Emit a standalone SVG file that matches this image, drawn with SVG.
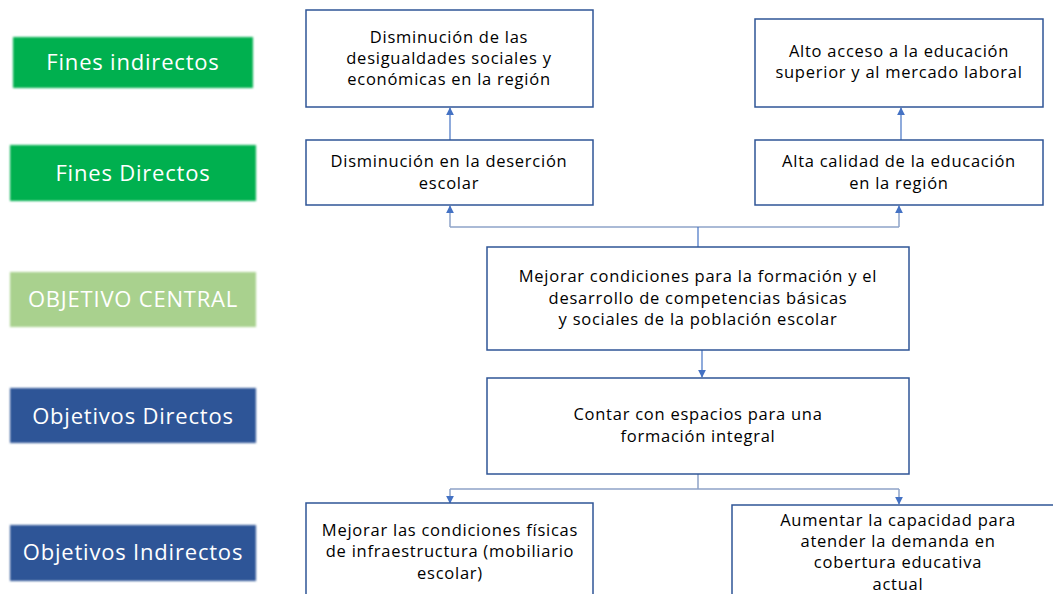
<svg xmlns="http://www.w3.org/2000/svg" width="1053" height="594" viewBox="0 0 1053 594">
<defs>
<style>
.lbl text{font-family:"Open Sans",Lato,sans-serif;font-size:22px;letter-spacing:0.8px;fill:#fff;text-anchor:middle}
.box rect{fill:#fff;stroke:#2F5597;stroke-width:1.5}
.box text{font-family:"Open Sans",Lato,sans-serif;font-size:16.5px;letter-spacing:0.75px;fill:#000;text-anchor:middle}
.con{fill:none;stroke:#8EA3C8;stroke-width:1.5}
.conv{fill:none;stroke:#4472C4;stroke-width:1.2}
</style>
<filter id="soft" x="-5%" y="-10%" width="110%" height="120%"><feGaussianBlur stdDeviation="1"/></filter>
<marker id="ah" viewBox="0 0 10 10" refX="9" refY="5" markerWidth="8" markerHeight="8" markerUnits="userSpaceOnUse" orient="auto"><path d="M0,0 L10,5 L0,10 z" fill="#4472C4"/></marker>
</defs>
<rect width="1053" height="594" fill="#fff"/>
<g id="lbl-fines-indirectos" class="lbl"><rect x="13" y="37" width="240" height="51" fill="#00B050" filter="url(#soft)"/><text x="133" y="70">Fines indirectos</text></g>
<g id="lbl-fines-directos" class="lbl"><rect x="10" y="145" width="246" height="56" fill="#00B050" filter="url(#soft)"/><text x="133" y="181">Fines Directos</text></g>
<g id="lbl-objetivo-central" class="lbl"><rect x="10" y="272" width="246" height="55" fill="#A9D18E" filter="url(#soft)"/><text x="133" y="307">OBJETIVO CENTRAL</text></g>
<g id="lbl-objetivos-directos" class="lbl"><rect x="10" y="388" width="246" height="55" fill="#2F5597" filter="url(#soft)"/><text x="133" y="424">Objetivos Directos</text></g>
<g id="lbl-objetivos-indirectos" class="lbl"><rect x="10" y="525" width="246" height="56" fill="#2F5597" filter="url(#soft)"/><text x="133" y="560">Objetivos Indirectos</text></g>

<g id="connectors">
<path class="conv" d="M450,140 V108" marker-end="url(#ah)"/>
<path class="conv" d="M901,140 V108" marker-end="url(#ah)"/>
<path class="con" d="M450,227 H899"/>
<path class="conv" d="M698,247 V227"/>
<path class="con" d="M450,227 V206" marker-end="url(#ah)"/>
<path class="con" d="M899,227 V206" marker-end="url(#ah)"/>
<path class="conv" d="M702,350 V377" marker-end="url(#ah)"/>
<path class="con" d="M698,474 V489 M450,489 H899"/>
<path class="con" d="M450,489 V503" marker-end="url(#ah)"/>
<path class="con" d="M899,489 V504" marker-end="url(#ah)"/>
</g>

<g id="n-desigualdades" class="box"><rect x="306" y="10" width="287" height="97"/><text x="449" y="43">Disminución de las</text><text x="449" y="64">desigualdades sociales y</text><text x="449" y="85">económicas en la región</text></g>
<g id="n-acceso" class="box"><rect x="755" y="19" width="288" height="88"/><text x="899" y="57">Alto acceso a la educación</text><text x="899" y="78">superior y al mercado laboral</text></g>
<g id="n-desercion" class="box"><rect x="306" y="140" width="287" height="65"/><text x="449" y="167">Disminución en la deserción</text><text x="449" y="189">escolar</text></g>
<g id="n-calidad" class="box"><rect x="755" y="140" width="288" height="65"/><text x="899" y="167">Alta calidad de la educación</text><text x="899" y="189">en la región</text></g>
<g id="n-central" class="box"><rect x="487" y="247" width="422" height="103"/><text x="698" y="282">Mejorar condiciones para la formación y el</text><text x="698" y="304">desarrollo de competencias básicas</text><text x="698" y="325">y sociales de la población escolar</text></g>
<g id="n-contar" class="box"><rect x="487" y="378" width="422" height="96"/><text x="698" y="420">Contar con espacios para una</text><text x="698" y="442">formación integral</text></g>
<g id="n-fisicas" class="box"><rect x="306" y="503" width="287" height="100"/><text x="450" y="536">Mejorar las condiciones físicas</text><text x="450" y="557">de infraestructura (mobiliario</text><text x="450" y="579">escolar)</text></g>
<g id="n-capacidad" class="box"><rect x="732" y="505" width="330" height="100"/><text x="898" y="526">Aumentar la capacidad para</text><text x="898" y="547">atender la demanda en</text><text x="898" y="568">cobertura educativa</text><text x="898" y="590">actual</text></g>
</svg>
